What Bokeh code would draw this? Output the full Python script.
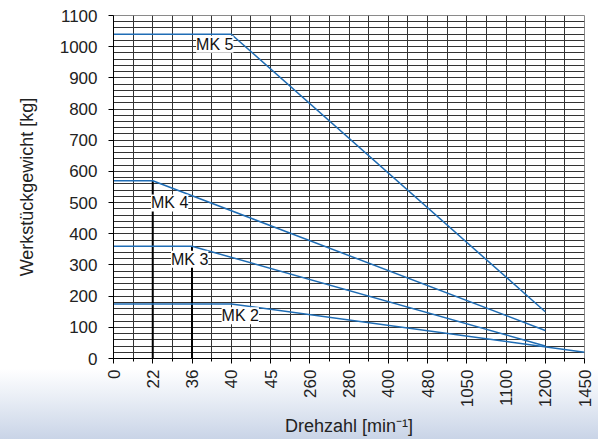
import math
from bokeh.plotting import figure
from bokeh.models import FixedTicker, Label, Range1d
from bokeh.embed import file_html
from bokeh.resources import INLINE

# ---- data -------------------------------------------------------------
speed_labels = ["0", "22", "36", "40", "45", "260", "280", "400", "480",
                "1050", "1100", "1200", "1450"]
weight_ticks = [0, 100, 200, 300, 400, 500, 600, 700, 800, 900, 1000, 1100]

mk5_rpm = ["0", "40", "1200"]
mk5_kg = [1040, 1040, 150]
mk4_rpm = ["0", "22", "1200"]
mk4_kg = [570, 570, 90]
mk3_rpm = ["0", "36", "1200"]
mk3_kg = [360, 360, 40]
mk2_rpm = ["0", "40", "1450"]
mk2_kg = [175, 175, 20]

drop_rpm = ["22", "36"]
drop_kg = [570, 360]

series_names = ["MK 5", "MK 4", "MK 3", "MK 2"]

# ---- figure -----------------------------------------------------------
pos = {s: i for i, s in enumerate(speed_labels)}
FONT = "Liberation Sans"
LINE = "#1f6db5"
GRID = "#333333"

p = figure(width=598, height=439, output_backend="svg", toolbar_location=None,
           x_range=Range1d(0, len(speed_labels) - 1), y_range=Range1d(0, 1100),
           min_border_left=113, min_border_right=14, min_border_top=15,
           min_border_bottom=78)

p.border_fill_alpha = 0
p.background_fill_color = "white"
p.outline_line_color = "#8a8a8a"
p.styles = {"background-image": "linear-gradient(to bottom, #ffffff 0%, #ffffff 84%, #e8edf5 91%, #c9d4e7 100%)"}

# axes
p.xaxis.ticker = FixedTicker(ticks=list(range(len(speed_labels))),
                             minor_ticks=[i + 0.5 for i in range(len(speed_labels) - 1)])
p.xaxis.major_label_overrides = {i: s for i, s in enumerate(speed_labels)}
p.xaxis.major_label_orientation = math.pi / 2
p.yaxis.ticker = FixedTicker(ticks=weight_ticks, minor_ticks=list(range(0, 1101, 20)))

for ax in (p.xaxis[0], p.yaxis[0]):
    ax.axis_line_color = "black"
    ax.major_tick_line_color = "black"
    ax.major_tick_in = 0
    ax.major_tick_out = 5
    ax.major_label_text_font = FONT
    ax.major_label_text_font_size = "17px"
    ax.major_label_text_color = "#222222"
    ax.axis_label_text_font = FONT
    ax.axis_label_text_font_size = "18px"
    ax.axis_label_text_font_style = "normal"
    ax.axis_label_text_color = "#222222"

p.xaxis.minor_tick_line_color = "black"
p.xaxis.minor_tick_in = 0
p.xaxis.minor_tick_out = 3
p.yaxis.minor_tick_line_color = None
p.xaxis.major_label_standoff = 6
p.yaxis.major_label_standoff = 11
p.xaxis.axis_label = "Drehzahl [min\u207b\u00b9]"
p.yaxis.axis_label = "Werkstückgewicht [kg]"
p.xaxis.axis_label_standoff = 6
p.yaxis.axis_label_standoff = 20

# grid
p.xgrid.ticker = p.xaxis.ticker
p.xgrid.grid_line_color = GRID
p.xgrid.minor_grid_line_color = GRID
p.ygrid.grid_line_color = GRID
p.ygrid.minor_grid_line_color = GRID

# drop lines
p.segment(x0=[pos[r] for r in drop_rpm], y0=[0] * len(drop_rpm),
          x1=[pos[r] for r in drop_rpm], y1=drop_kg,
          line_color="black", line_width=2)

# series
for rpm, kg in ((mk5_rpm, mk5_kg), (mk4_rpm, mk4_kg), (mk3_rpm, mk3_kg), (mk2_rpm, mk2_kg)):
    p.line([pos[r] for r in rpm], kg, line_color=LINE, line_width=1.5)

# labels
label_pos = [(2.58, 1008), (1.43, 499), (1.94, 318), (3.23, 137)]
for name, (lx, ly) in zip(series_names, label_pos):
    p.add_layout(Label(x=lx, y=ly, text=name, text_align="center",
                       text_baseline="middle", text_font=FONT,
                       text_font_size="16px", text_color="#111111",
                       background_fill_color="white"))

open("out.html", "w").write(file_html(p, INLINE))
